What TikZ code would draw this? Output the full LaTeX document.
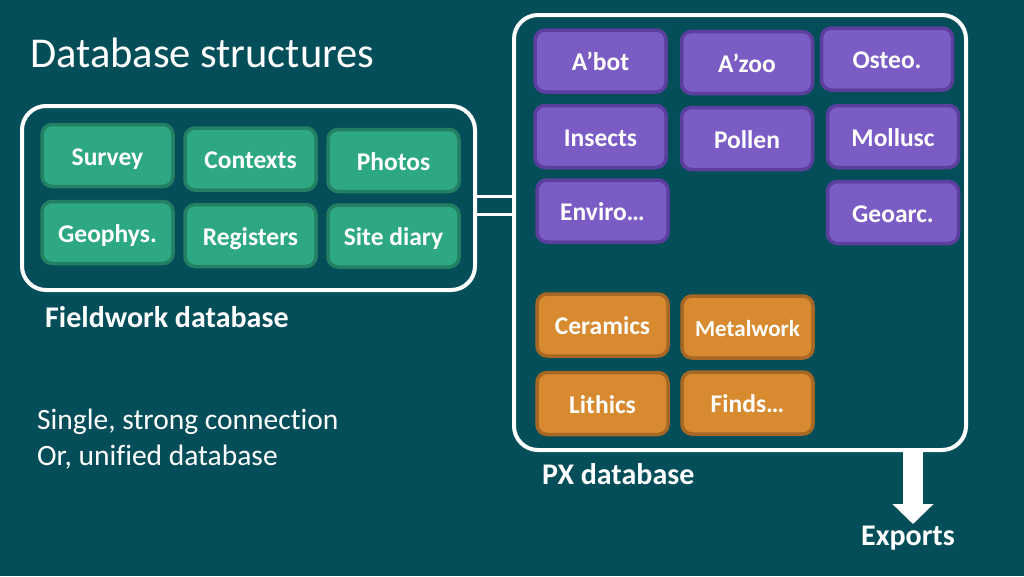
\documentclass[tikz,border=0pt]{standalone}
\usepackage{fontspec}
\setmainfont{Carlito}[Ligatures=NoCommon]
\usepackage{tikz}
\usetikzlibrary{arrows.meta,positioning}
\definecolor{bg}{RGB}{4,78,90}
\definecolor{grn}{RGB}{46,168,130}
\definecolor{grnedge}{RGB}{36,128,98}
\definecolor{purp}{RGB}{122,92,196}
\definecolor{purpedge}{RGB}{92,62,158}
\definecolor{orng}{RGB}{216,138,48}
\definecolor{orngedge}{RGB}{166,104,36}
\tikzstyle{tile}=[rectangle,rounded corners=10pt,line width=3.5pt,minimum width=131pt,minimum height=62pt,inner sep=0pt,text height=22pt,text depth=3pt,text=white,font=\fontsize{25.5}{30}\selectfont\bfseries]
\tikzstyle{field tile}=[tile,fill=grn,draw=grnedge]
\tikzstyle{px tile}=[tile,fill=purp,draw=purpedge]
\tikzstyle{finds tile}=[tile,fill=orng,draw=orngedge]
\tikzstyle{group}=[rectangle,draw=white,line width=4pt,rounded corners=24pt,inner sep=0pt]
\tikzstyle{link}=[draw=white,line width=3pt]
\tikzstyle{bigarrow}=[draw=white,line width=20pt,-{Triangle[width=40pt,length=20pt]}]
\tikzstyle{caption}=[text=white,inner sep=0pt,font=\fontsize{30}{34}\selectfont\bfseries]
\tikzstyle{plain}=[text=white,inner sep=0pt,font=\fontsize{29.5}{34}\selectfont]

\begin{document}
\begin{tikzpicture}[x=1pt,y=-1pt]
    \fill[bg] (0,0) rectangle (1024,576);
    \useasboundingbox (0,0) rectangle (1024,576);
    \node[plain,anchor=west,font=\fontsize{42.5}{48}\selectfont] (title) at (30,53) {Database structures};
    % the two databases
    \node[group,minimum width=453pt,minimum height=184pt] (fw) at (248.5,198) {};
    \node[group,minimum width=452pt,minimum height=435pt] (px) at (740,232.5) {};
    \foreach \pos/\name/\txt in {{(107.5,155.5)/survey/Survey}, {(250.5,159)/contexts/Contexts}, {(393.5,160.5)/photos/Photos},
        {(107.5,232.5)/geophys/Geophys.}, {(250.5,235.5)/registers/Registers}, {(393.5,236)/diary/Site diary}}
        \node[field tile] (\name) at \pos {\txt};
    \foreach \pos/\name/\txt in {{(600.5,61)/abot/A’bot}, {(747,62.5)/azoo/A’zoo}, {(887,59)/osteo/Osteo.},
        {(600.5,136.5)/insects/Insects}, {(747,138.5)/pollen/Pollen}, {(893,136.5)/mollusc/Mollusc},
        {(602.5,211)/enviro/Enviro…}, {(893,212.5)/geoarc/Geoarc.}}
        \node[px tile] (\name) at \pos {\txt};
    \foreach \pos/\name/\txt in {{(602.5,325)/ceramics/Ceramics}, {(747.5,327)/metalwork/{\fontsize{23}{27}\selectfont Metalwork}},
        {(602.5,403.5)/lithics/Lithics}, {(747.5,403)/finds/Finds…}}
        \node[finds tile] (\name) at \pos {\txt};
    % double connection
    \coordinate (l1) at ([yshift=2pt]fw.east);
    \coordinate (l2) at ([yshift=-16pt]fw.east);
    \path[link] (l1) -- (l1 -| px.west);
    \path[link] (l2) -- (l2 -| px.west);
    % captions
    \node[caption,anchor=west] (fwlabel) at (45,317) {Fieldwork database};
    \node[caption,anchor=west] (pxlabel) at (542,474) {PX database};
    \node[plain,anchor=west] (single) at (37,422) {Single, strong connection};
    \node[plain,anchor=west] (unified) at (37,457) {Or, unified database};
    \node[caption] (exports) at (908,538) {Exports};
    \coordinate (x0) at (913,0);
    \coordinate (a) at (px.south -| x0);
    \coordinate (tip) at ([yshift=-72pt]a);
    \path[bigarrow] (a) -- (tip);
\end{tikzpicture}
\end{document}
